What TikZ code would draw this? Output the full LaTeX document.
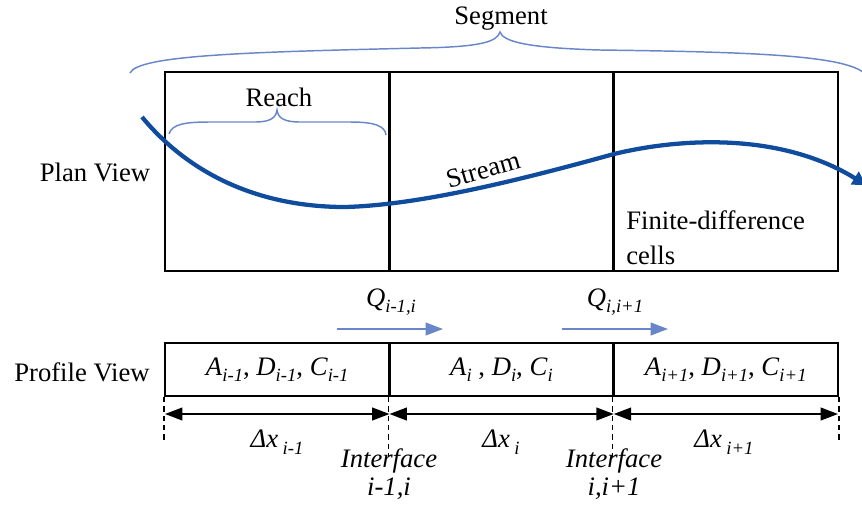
\documentclass[tikz,border=0pt]{standalone}
\usepackage{fontspec}
\setmainfont{Liberation Serif}
\usetikzlibrary{arrows.meta}
\definecolor{streamblue}{RGB}{15,76,158}
\definecolor{braceblue}{RGB}{105,135,200}
\newcommand{\isub}[1]{\raisebox{-5pt}{\fontsize{14}{14}\selectfont\itshape #1}}
\tikzset{
  cell/.style={draw, line width=1.5pt, inner sep=0pt, minimum width=168.4pt},
  bracecurve/.style={braceblue, line width=1.1pt},
  flow/.style={braceblue, line width=1.4pt, -{Triangle[length=13pt,width=9.5pt]}},
  dimarrow/.style={line width=1.4pt, {Triangle[length=13pt,width=9.5pt]}-{Triangle[length=13pt,width=9.5pt]}},
  guide/.style={line width=1pt, dash pattern=on 4pt off 3pt},
}
\begin{document}
\begin{tikzpicture}[x=0.75pt, y=-0.75pt, every node/.style={font=\fontsize{20}{24}\selectfont}]
    \useasboundingbox (0,0) rectangle (862,504);
    % Plan view cells
    \node[cell, minimum height=149.25pt] (plan1) at (277.25,171.5) {};
    \node[cell, minimum height=149.25pt] (plan2) at (501.5,171.5) {};
    \node[cell, minimum height=149.25pt] (plan3) at (725.75,171.5) {};
    % Stream line
    \draw[streamblue, line width=3.2pt, -{Triangle[length=10pt,width=11pt]}]
        (142,117) .. controls (190,175) and (260,207) .. (345,207)
        .. controls (420,205) and (520,180) .. (614,154)
        .. controls (680,138) and (780,132) .. (866,185);
    \node[rotate=16, inner sep=1pt] (streamlabel) at (483,170) {Stream};
    % Segment brace
    \draw[bracecurve] (130,73) .. controls (138,55) and (250,52) .. (420,48)
        .. controls (480,47) and (497,42) .. (500,32)
        .. controls (503,42) and (530,48) .. (600,50)
        .. controls (750,52) and (850,55) .. (866,75);
    \node (segment) at (501,19) {Segment};
    % Reach brace
    \draw[bracecurve] (169,134) .. controls (172,124) and (185,122) .. (210,122) -- (255,122)
        .. controls (270,122) and (276,118) .. (277,110)
        .. controls (278,118) and (284,122) .. (300,122) -- (350,122)
        .. controls (375,122) and (385,126) .. (386,135);
    \node (reach) at (279,97) {Reach};
    % Labels
    \node (planview) at (95,172) {Plan View};
    \node (profileview) at (82,372) {Profile View};
    \node[anchor=west, align=left, inner sep=0pt, font=\fontsize{20}{26}\selectfont] (fdlabel) at (626,237.5) {Finite-difference\\cells};
    % Profile view cells
    \node[cell, minimum height=39.75pt] (prof1) at (277.25,369.5) {\textit{A}\isub{i-1}, \textit{D}\isub{i-1}, \textit{C}\isub{i-1}};
    \node[cell, minimum height=39.75pt] (prof2) at (501.5,369.5) {\textit{A}\isub{i} , \textit{D}\isub{i}, \textit{C}\isub{i}};
    \node[cell, minimum height=39.75pt] (prof3) at (725.75,369.5) {\textit{A}\isub{i+1}, \textit{D}\isub{i+1}, \textit{C}\isub{i+1}};
    % Flows between cells
    \coordinate (q1start) at (337,329);
    \coordinate (q1end) at (443,329);
    \coordinate (q2start) at (562,329);
    \coordinate (q2end) at (668,329);
    \draw[flow] (q1start) -- (q1end);
    \draw[flow] (q2start) -- (q2end);
    \node (qlabel1) at (391,302) {\textit{Q}\isub{i-1,i}};
    \node (qlabel2) at (615,302) {\textit{Q}\isub{i,i+1}};
    % Interface guides
    \draw[guide] (prof1.south west) -- ++(0,44);
    \draw[guide] (prof2.south west) -- ++(0,60);
    \draw[guide] (prof3.south west) -- ++(0,60);
    \draw[guide] (prof3.south east) -- ++(0,44);
    % Cell lengths
    \coordinate (dim0) at (165,414);
    \coordinate (dim1) at (389.5,414);
    \coordinate (dim2) at (613.75,414);
    \coordinate (dim3) at (838,414);
    \draw[dimarrow] (dim0) -- (dim1);
    \draw[dimarrow] (dim1) -- (dim2);
    \draw[dimarrow] (dim2) -- (dim3);
    \node (dx1) at (277,442) {\textit{Δx}\,\isub{i-1}};
    \node (dx2) at (501,442) {\textit{Δx}\,\isub{i}};
    \node (dx3) at (724,442) {\textit{Δx}\,\isub{i+1}};
    % Interfaces
    \node[align=center, font=\fontsize{20}{21}\selectfont\itshape] (iface1) at (389,474) {Interface\\i-1,i};
    \node[align=center, font=\fontsize{20}{21}\selectfont\itshape] (iface2) at (614,474) {Interface\\i,i+1};
\end{tikzpicture}
\end{document}
